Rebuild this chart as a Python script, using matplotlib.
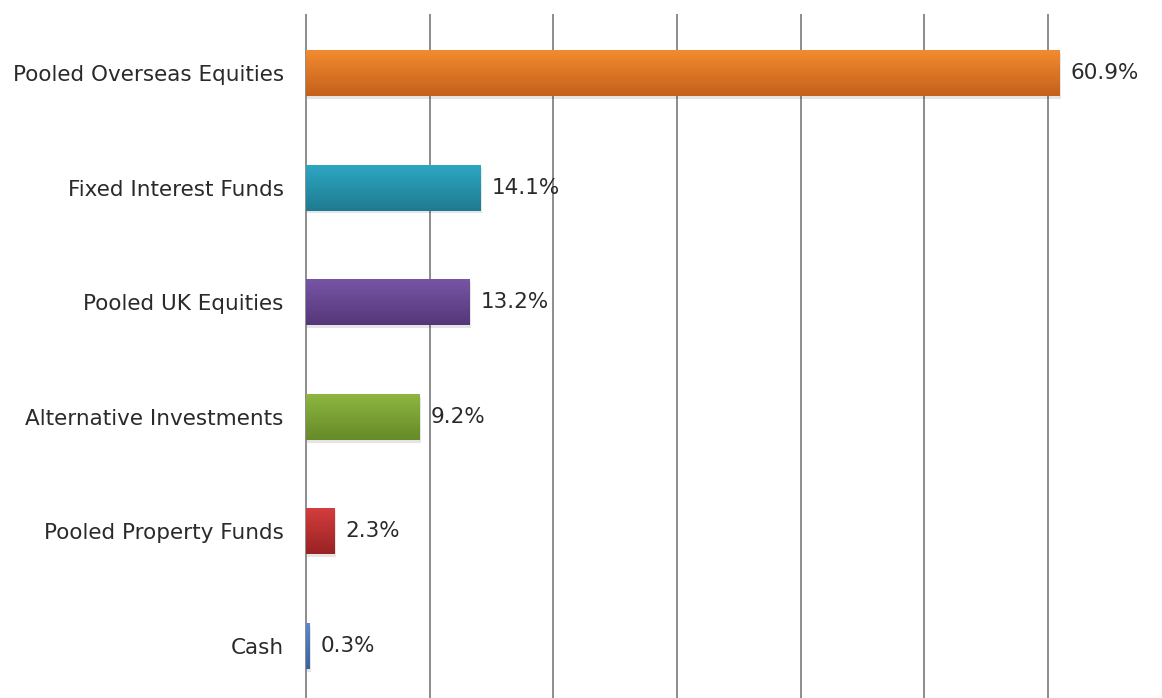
import numpy as np
import matplotlib
matplotlib.use("Agg")
import matplotlib.pyplot as plt
from matplotlib.colors import LinearSegmentedColormap

# Asset allocation (% of fund)
categories = [
    "Pooled Overseas Equities",
    "Fixed Interest Funds",
    "Pooled UK Equities",
    "Alternative Investments",
    "Pooled Property Funds",
    "Cash",
]
values = [60.9, 14.1, 13.2, 9.2, 2.3, 0.3]

# top / bottom shade of each bar's gradient
bar_top = ["#F28B30", "#2DA7C2", "#7755A6", "#8DB640", "#D43D3D", "#5A88C8"]
bar_bottom = ["#C4601B", "#1F7A91", "#553778", "#668A28", "#992224", "#3A63A0"]

grid_ticks = [0, 10, 20, 30, 40, 50, 60]
text_col = "#2A2A2A"
fsize = 15.5

fig = plt.figure(figsize=(11.62, 6.98), dpi=100)
ax = fig.add_axes([0.2633, 0.0, 0.7367, 0.9785])

y = np.arange(len(categories))
bar_h = 0.40

# soft drop shadow under each bar
ax.barh(y + 0.025, values, height=bar_h, left=0.12, color="#000000",
        alpha=0.10, zorder=2, linewidth=0)

bars = ax.barh(y, values, height=bar_h, color="none", zorder=3, linewidth=0)

grad = np.linspace(0, 1, 64).reshape(-1, 1)
for b, c0, c1 in zip(bars, bar_top, bar_bottom):
    cmap = LinearSegmentedColormap.from_list("g", [c0, c1])
    x0, y0 = b.get_x(), b.get_y()
    w, h = b.get_width(), b.get_height()
    im = ax.imshow(grad, cmap=cmap, aspect="auto", interpolation="bicubic",
                   extent=(x0, x0 + w, y0 + h, y0), zorder=3)
    im.set_clip_path(b)

for yi, v in zip(y, values):
    ax.annotate(f"{v}%", xy=(v, yi), xytext=(8, 0), textcoords="offset points",
                va="center", ha="left", fontsize=fsize, color=text_col)

ax.set_xlim(0, 69.2)
ax.set_ylim(5.454, -0.506)
ax.set_xticks(grid_ticks)
ax.set_xticklabels([])
ax.tick_params(axis="x", length=0)
ax.set_yticks(y)
ax.set_yticklabels(categories, fontsize=fsize, color=text_col)
ax.tick_params(axis="y", length=0, pad=16)

for t in grid_ticks:
    ax.axvline(t, color="#8C8C8C", linewidth=1.4, zorder=1, clip_on=False)

for s in ax.spines.values():
    s.set_visible(False)

fig.savefig("out.png", dpi=100)
